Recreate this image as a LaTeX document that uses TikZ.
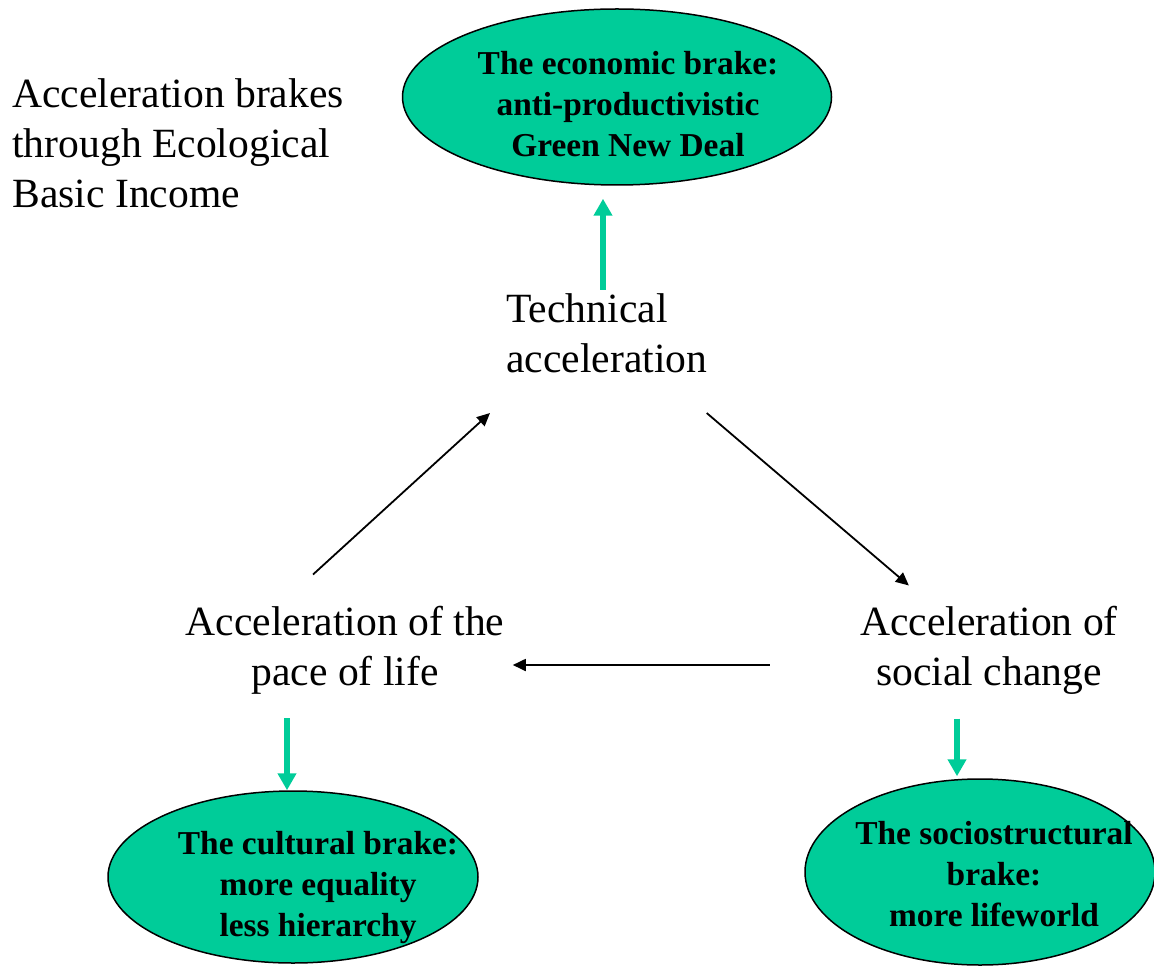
\documentclass[tikz,border=0pt]{standalone}
\usepackage{fontspec}
\setmainfont{Liberation Serif}
\usetikzlibrary{positioning,calc,arrows.meta,shapes.geometric}
\definecolor{brakegreen}{HTML}{00CC99}
\tikzset{>={Triangle[length=6.5pt,width=6pt]}}

\begin{document}
\begin{tikzpicture}[x=0.5pt,y=-0.5pt,
  every node/.style={inner sep=0pt},
  phase/.style={font=\fontsize{20.8}{25}\selectfont,align=center},
  brake/.style={ellipse,draw=black,line width=0.75pt,fill=brakegreen},
  brakelabel/.style={font=\fontsize{16.7}{20.5}\selectfont\bfseries,align=center},
  brakearrow/.style={draw=brakegreen,line width=3pt,-{Triangle[length=8.5pt,width=9pt]}},
  flow/.style={->,line width=0.9pt}]
\useasboundingbox (0,0) rectangle (1154,967);

% the three accelerations
\node[anchor=west,phase,align=left] (title) at (12,143) {Acceleration brakes\\through Ecological\\Basic Income};
\node[anchor=west,phase,align=left] (tech) at (506,333) {Technical\\acceleration};
\node[phase] (pace) at (345,650) {Acceleration of the\\pace of life};
\node[phase] (social) at (989,650) {Acceleration of\\social change};

% the brakes
\node[brake,minimum width=214.5pt,minimum height=88pt] (econ) at (617,97) {};
\node[brakelabel] (econtext) at (628,104) {The economic brake:\\anti-productivistic\\Green New Deal};
\node[brake,minimum width=185pt,minimum height=86pt] (cult) at (293,877) {};
\node[brakelabel] (culttext) at (318,888) {The cultural brake:\\more equality\\less hierarchy};
\node[brake,minimum width=175pt,minimum height=93pt] (struct) at (980,872) {};
\node[brakelabel] (structtext) at (994,874) {The sociostructural\\brake:\\more lifeworld};

% the cycle
\draw[flow] ($(pace.north)+(-32,-31)$) -- ($(tech.south west)+(-16,40)$);
\draw[flow] ($(tech.south east)+(-1,40)$) -- ($(social.north west)+(49,-20)$);
\draw[flow] ($(social.west)+(-90,15)$) -- ($(pace.east)+(8,15)$);

% braking arrows
\coordinate (techfoot) at ($(tech.north west)+(97,-3)$);
\draw[brakearrow,shorten >=6.5pt] (techfoot) -- (techfoot |- econ.south);
\coordinate (pacefoot) at ($(pace.south)+(-58,24)$);
\draw[brakearrow] (pacefoot) -- (pacefoot |- cult.north);
\coordinate (socialfoot) at ($(social.south)+(-32,24)$);
\draw[brakearrow,shorten >=1pt] (socialfoot) -- (socialfoot |- struct.north);
\end{tikzpicture}
\end{document}
